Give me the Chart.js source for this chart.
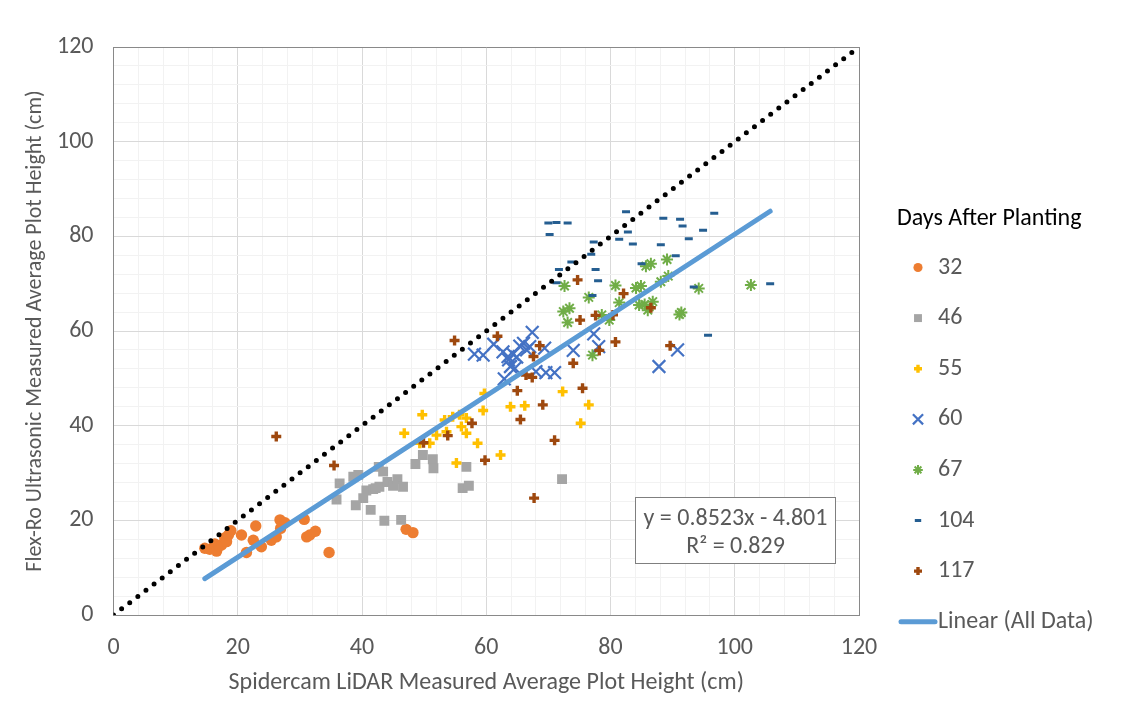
<!DOCTYPE html>
<html>
<head>
<meta charset="utf-8">
<script src="https://cdn.jsdelivr.net/npm/chart.js"></script>
<style>
  html, body { margin: 0; padding: 0; background: #fff; }
</style>
</head>
<body>
<canvas id="myChart" width="1136" height="704"></canvas>
<script>
// data, [spidercam, flex-ro] in cm
var dap32 = [[14.7,14.1],[15.5,13.9],[16.3,15.0],[16.6,13.5],[17.0,14.6],[17.4,14.8],[17.9,16.3],[18.2,15.5],[18.5,16.9],[18.9,17.8],[20.6,16.9],[21.4,13.2],[22.5,15.8],[22.9,18.8],[23.8,14.4],[25.4,15.8],[26.2,16.5],[26.8,20.1],[26.9,18.3],[27.6,19.5],[30.7,20.2],[31.1,16.5],[31.6,16.9],[32.5,17.7],[34.7,13.2],[47.1,18.1],[48.2,17.4]];
var dap46 = [[35.9,24.4],[36.4,27.8],[38.6,29.2],[39.4,29.6],[39.0,23.2],[40.2,24.7],[41.4,22.2],[40.7,26.3],[41.8,26.6],[42.2,26.8],[42.8,27.1],[42.7,31.3],[43.4,30.3],[43.6,19.9],[44.1,28.1],[45.0,27.3],[45.7,28.7],[46.6,27.1],[46.3,20.1],[48.6,31.9],[49.8,33.8],[51.4,32.9],[51.5,31.0],[56.8,31.3],[56.2,26.8],[57.2,27.3],[72.2,28.7]];
var dap55 = [[46.8,38.4],[49.3,36.3],[49.7,42.3],[50.9,36.3],[52.0,38.0],[53.3,41.2],[53.6,38.7],[54.6,41.9],[55.7,42.3],[56.0,39.8],[56.8,38.4],[56.8,41.6],[58.6,36.3],[59.5,43.2],[59.7,46.8],[55.2,32.1],[62.3,33.8],[63.9,44.0],[66.2,44.2],[72.3,47.2],[76.5,44.4],[75.2,40.5]];
var dap60 = [[58.1,55.1],[59.5,54.9],[61.2,57.2],[62.7,55.6],[63.5,54.6],[64.3,55.1],[65.4,56.8],[66.0,57.4],[66.5,56.0],[67.4,59.7],[67.0,56.7],[69.4,56.4],[63.9,52.5],[64.6,52.1],[62.9,49.9],[68.0,51.4],[69.6,51.2],[71.0,51.2],[74.0,55.9],[77.3,59.4],[78.1,56.7],[87.8,52.5],[90.8,56.0],[64.9,54.5],[63.6,53.9]];
var dap67 = [[72.6,69.5],[76.5,67.1],[72.4,64.1],[73.4,64.8],[73.1,61.8],[77.1,54.9],[78.6,63.4],[79.8,62.3],[80.8,69.6],[81.4,66.0],[84.1,69.1],[84.9,69.5],[85.7,73.7],[86.5,74.2],[89.1,75.1],[89.3,71.6],[88.1,70.4],[84.6,65.5],[85.5,65.6],[86.0,64.4],[86.8,66.2],[91.1,63.5],[91.4,63.9],[94.2,69.0],[102.6,69.7]];
var dap104 = [[70.0,82.8],[71.3,82.9],[73.1,82.8],[70.2,80.4],[71.7,73.0],[71.3,70.2],[73.7,74.6],[76.9,76.2],[77.3,78.8],[77.6,73.0],[78.0,70.6],[77.1,67.5],[81.4,79.4],[82.5,85.2],[82.8,80.9],[83.6,78.4],[85.0,74.2],[88.1,78.2],[88.5,83.8],[90.5,75.9],[91.2,83.6],[91.6,82.2],[92.6,79.5],[93.4,69.3],[94.9,81.3],[96.7,84.9],[95.7,59.1],[105.7,70.0]];
var dap117 = [[26.2,37.7],[35.5,31.6],[49.9,36.4],[53.8,37.9],[54.9,58.0],[57.7,40.5],[59.8,32.7],[61.8,58.9],[65.0,47.4],[65.5,41.3],[66.4,50.7],[67.4,50.2],[67.6,54.6],[67.7,24.7],[68.6,56.9],[69.1,44.4],[71.0,36.9],[74.0,53.2],[74.7,70.8],[75.1,62.3],[75.5,47.9],[77.6,63.3],[78.2,55.9],[80.4,63.4],[80.8,57.7],[82.1,67.9],[86.5,64.9],[89.6,56.9]];

// trendline ends and 1:1 line ends
var trendX = [14.7, 105.7];
var trendY = [7.7, 85.3];
var oneToOne = [0, 119];

var seriesNames = ['32', '46', '55', '60', '67', '104', '117'];
var legendTitle = 'Days After Planting';
var trendName = 'Linear (All Data)';
var trendText = ['y = 0.8523x - 4.801', 'R\u00B2 = 0.829'];
var xTitle = 'Spidercam LiDAR Measured Average Plot Height (cm)';
var yTitle = 'Flex-Ro Ultrasonic Measured Average Plot Height (cm)';

var fontFam = 'Calibri, Carlito, Lato, sans-serif';
var gray = '#595959';

function pts(arr) {
  return arr.map(function (p) { return { x: p[0], y: p[1] }; });
}
function linePts(xs, ys) {
  return xs.map(function (x, i) { return { x: x, y: ys[i] }; });
}

function scatterSet(name, arr, color, style, radius, bw, order) {
  return {
    label: name,
    data: pts(arr),
    pointStyle: style,
    pointRadius: radius,
    pointBackgroundColor: color,
    pointBorderColor: color,
    pointBorderWidth: bw,
    backgroundColor: color,
    borderColor: color,
    showLine: false,
    order: order,
    inLegend: true
  };
}

var datasets = [
  scatterSet(seriesNames[0], dap32, '#ED7D31', 'circle', 5.7, 0, 8),
  scatterSet(seriesNames[1], dap46, '#A5A5A5', 'rect', 7, 0, 7),
  scatterSet(seriesNames[2], dap55, '#FFC000', 'cross', 5, 3.4, 6),
  scatterSet(seriesNames[3], dap60, '#4472C4', 'crossRot', 9, 2.2, 5),
  scatterSet(seriesNames[4], dap67, '#70AD47', 'star', 6, 2, 4),
  scatterSet(seriesNames[5], dap104, '#255E91', 'line', 4, 3, 3),
  scatterSet(seriesNames[6], dap117, '#9E480E', 'cross', 5, 3.4, 2),
  {
    label: trendName,
    data: linePts(trendX, trendY),
    showLine: true,
    borderColor: '#5B9BD5',
    borderWidth: 5,
    borderCapStyle: 'round',
    pointRadius: 0,
    order: 0,
    inLegend: true,
    isLine: true
  },
  {
    label: '1:1',
    data: linePts(oneToOne, oneToOne),
    showLine: true,
    borderColor: '#000',
    borderWidth: 5,
    borderCapStyle: 'round',
    borderDash: [0, 10.2],
    pointRadius: 0,
    order: 1
  }
];

function gridColor(c) {
  var v = c.tick ? c.tick.value : null;
  if (v === 0 || v === 120) return '#898989';
  return v % 20 === 0 ? '#D9D9D9' : '#F2F2F2';
}
function tickLabel(v) {
  return v % 20 === 0 ? v : '';
}

// equation box
var eqBox = {
  id: 'eqBox',
  afterDatasetsDraw: function (chart) {
    var ctx = chart.ctx;
    ctx.save();
    ctx.fillStyle = '#fff';
    ctx.fillRect(635.5, 497.5, 200, 66);
    ctx.strokeStyle = '#7F7F7F';
    ctx.lineWidth = 1;
    ctx.strokeRect(635.5, 497.5, 200, 66);
    ctx.fillStyle = gray;
    ctx.font = '24px ' + fontFam;
    ctx.textAlign = 'center';
    ctx.textBaseline = 'middle';
    ctx.fillText(trendText[0], 735.5, 518.5);
    ctx.fillText(trendText[1], 735.5, 547);
    ctx.restore();
  }
};

// legend on the right
var sideLegend = {
  id: 'sideLegend',
  afterDraw: function (chart) {
    var ctx = chart.ctx;
    ctx.save();
    ctx.textBaseline = 'middle';
    ctx.textAlign = 'left';
    ctx.font = '24px ' + fontFam;
    ctx.fillStyle = '#000';
    ctx.fillText(legendTitle, 897, 219);
    var y = 267.5;
    chart.data.datasets.forEach(function (ds) {
      if (!ds.inLegend) return;
      if (ds.isLine) {
        ctx.strokeStyle = ds.borderColor;
        ctx.lineWidth = 5;
        ctx.lineCap = 'round';
        ctx.beginPath();
        ctx.moveTo(901, y);
        ctx.lineTo(935, y);
        ctx.stroke();
      } else {
        ctx.fillStyle = ds.pointBackgroundColor;
        ctx.strokeStyle = ds.pointBorderColor;
        ctx.lineWidth = ds.pointBorderWidth;
        ctx.lineCap = 'butt';
        Chart.helpers.drawPoint(ctx, {
          pointStyle: ds.pointStyle,
          radius: ds.pointRadius * 0.8,
          borderWidth: ds.pointBorderWidth,
          rotation: 0
        }, 918, y);
      }
      ctx.fillStyle = gray;
      ctx.fillText(ds.label, 938, y);
      y += 50.6;
    });
    ctx.restore();
  }
};

var ctx = document.getElementById('myChart').getContext('2d');
var chart = new Chart(ctx, {
  type: 'scatter',
  data: { datasets: datasets },
  plugins: [eqBox, sideLegend],
  options: {
    responsive: false,
    animation: false,
    events: [],
    layout: { padding: { left: 18, top: 47, right: 277, bottom: 0 } },
    plugins: {
      legend: { display: false },
      tooltip: { enabled: false }
    },
    scales: {
      x: {
        type: 'linear',
        min: 0,
        max: 120,
        afterFit: function (s) { s.height = 89; },
        ticks: {
          stepSize: 4,
          autoSkip: false,
          maxRotation: 0,
          padding: 19,
          color: gray,
          font: { family: fontFam, size: 24 },
          callback: tickLabel
        },
        grid: { color: gridColor, drawTicks: false },
        border: { color: '#898989' },
        title: {
          display: true,
          text: xTitle,
          color: gray,
          font: { family: fontFam, size: 24 },
          padding: { top: 4, bottom: 6.5 }
        }
      },
      y: {
        type: 'linear',
        min: 0,
        max: 120,
        afterFit: function (s) { s.width = 95.5; },
        ticks: {
          stepSize: 4,
          autoSkip: false,
          padding: 20,
          color: gray,
          font: { family: fontFam, size: 24 },
          callback: tickLabel
        },
        grid: { color: gridColor, drawTicks: false },
        border: { color: '#898989' },
        title: {
          display: true,
          text: yTitle,
          color: gray,
          font: { family: fontFam, size: 22 },
          padding: { top: 4, bottom: 4 }
        }
      }
    }
  }
});
</script>
</body>
</html>
